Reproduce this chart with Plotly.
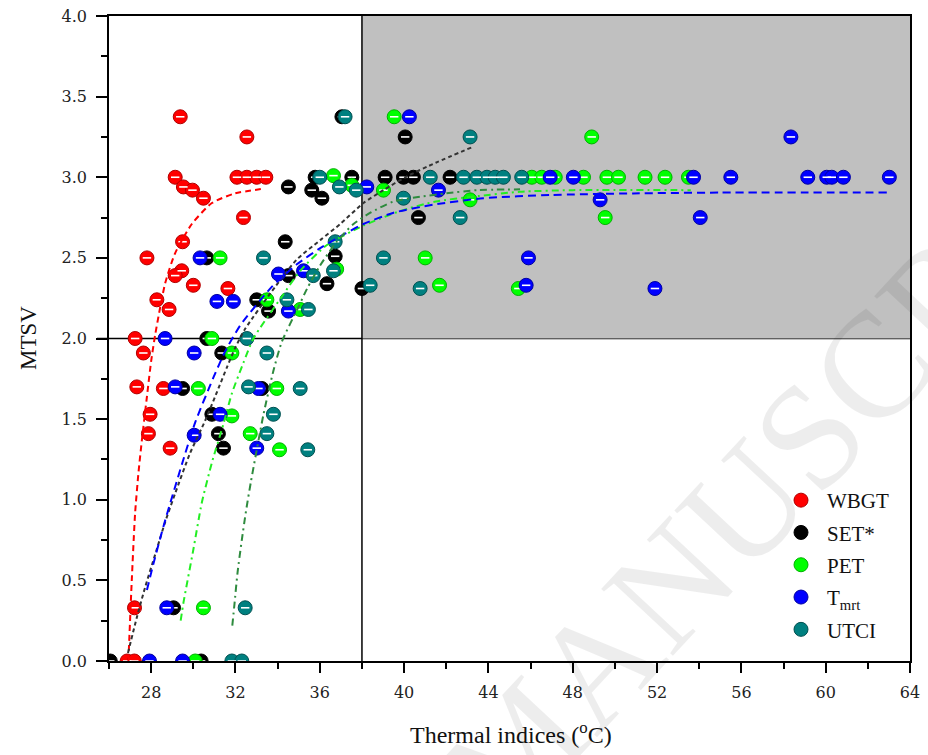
import plotly.graph_objects as go

# ---------------- data ----------------
wbgt_x = [29.38, 32.54, 29.14, 29.53, 29.96, 30.48, 32.07, 32.54, 33.01, 33.44, 32.38, 29.49, 27.80,
          29.45, 29.14, 30.00, 31.64, 28.27, 28.85, 27.24, 27.63, 27.32, 28.58, 27.95, 27.87, 28.90,
          27.21, 26.86, 27.20]
wbgt_y = [3.375, 3.25, 3.0, 2.94, 2.92, 2.87, 3.0, 3.0, 3.0, 3.0, 2.75, 2.60, 2.50,
          2.42, 2.39, 2.33, 2.31, 2.24, 2.18, 2.0, 1.91, 1.70, 1.69, 1.53, 1.41, 1.32,
          0.33, 0.0, 0.0]

set_x = [37.05, 40.05, 34.51, 35.62, 36.10, 35.78, 37.52, 39.10, 39.97, 40.44, 42.18, 40.68, 34.36,
         36.73, 36.34, 34.51, 38.00, 33.01, 33.57, 30.64, 30.64, 31.35, 29.49, 33.25, 30.88, 31.19,
         31.43, 29.06, 26.06, 30.37]
set_y = [3.375, 3.25, 2.94, 2.92, 2.87, 3.0, 3.0, 3.0, 3.0, 3.0, 3.0, 2.75, 2.60,
         2.51, 2.34, 2.39, 2.31, 2.24, 2.17, 2.50, 2.0, 1.91, 1.69, 1.69, 1.53, 1.41,
         1.32, 0.33, 0.0, 0.0]

pet_x = [39.53, 48.90, 36.65, 37.52, 39.02, 46.06, 46.53, 47.17, 48.51, 49.62, 50.17, 51.43, 52.38,
         53.49, 43.13, 49.54, 41.00, 41.68, 45.42, 36.80, 31.27, 33.49, 35.07, 30.88, 31.83, 30.24,
         33.96, 31.83, 32.70, 34.09, 30.48, 30.09]
pet_y = [3.375, 3.25, 3.01, 2.95, 2.92, 3.0, 3.0, 3.0, 3.0, 3.0, 3.0, 3.0, 3.0,
         3.0, 2.86, 2.75, 2.50, 2.33, 2.31, 2.43, 2.50, 2.24, 2.18, 2.0, 1.91, 1.69,
         1.69, 1.52, 1.41, 1.31, 0.33, 0.0]

tmrt_x = [40.25, 58.35, 38.23, 41.63, 46.93, 48.03, 53.73, 55.50, 59.15, 60.05, 60.29, 60.84, 63.02,
          49.30, 54.05, 45.90, 45.79, 51.90, 30.32, 35.23, 34.04, 31.12, 31.90, 34.51, 28.66, 30.04,
          29.14, 33.09, 31.27, 30.04, 33.01, 28.74, 27.92, 29.49]
tmrt_y = [3.375, 3.25, 2.94, 2.92, 3.0, 3.0, 3.0, 3.0, 3.0, 3.0, 3.0, 3.0, 3.0,
          2.86, 2.75, 2.50, 2.33, 2.31, 2.50, 2.42, 2.40, 2.23, 2.23, 2.17, 2.0, 1.91,
          1.70, 1.69, 1.53, 1.40, 1.32, 0.33, 0.0, 0.0]

utci_x = [37.20, 43.13, 36.00, 36.93, 37.73, 41.24, 42.82, 43.45, 43.93, 44.32, 44.71, 45.58, 39.97,
          42.66, 39.02, 33.33, 36.73, 36.65, 35.69, 38.39, 40.76, 34.44, 35.46, 32.54, 33.49, 32.62,
          35.07, 33.80, 33.49, 35.43, 32.46, 31.83, 32.30]
utci_y = [3.375, 3.25, 3.0, 2.94, 2.92, 3.0, 3.0, 3.0, 3.0, 3.0, 3.0, 3.0, 2.87,
          2.75, 2.50, 2.50, 2.60, 2.42, 2.39, 2.33, 2.31, 2.24, 2.18, 2.0, 1.91, 1.70,
          1.69, 1.53, 1.41, 1.31, 0.33, 0.0, 0.0]

# fitted curves
wbgt_fit_x = [26.92, 27.08, 27.24, 27.40, 27.56, 27.80, 28.00, 28.20, 28.66, 29.14, 29.93, 30.88, 31.98, 33.40]
wbgt_fit_y = [0.0, 0.50, 0.92, 1.17, 1.37, 1.64, 1.86, 2.03, 2.34, 2.53, 2.71, 2.84, 2.90, 2.93]

set_fit_x = [26.90, 27.32, 27.72, 28.19, 28.66, 29.14, 29.85, 30.56, 31.19, 31.59, 31.98, 32.46, 33.88,
             34.91, 36.02, 36.97, 38.07, 39.02, 40.05, 41.50, 43.29]
set_fit_y = [0.05, 0.27, 0.46, 0.66, 0.86, 1.04, 1.29, 1.49, 1.69, 1.82, 1.94, 2.06, 2.32,
             2.49, 2.61, 2.71, 2.84, 2.92, 3.00, 3.09, 3.19]

pet_fit_x = [29.40, 29.53, 30.00, 30.40, 30.88, 31.43, 31.83, 32.38, 32.85, 34.20, 35.07, 36.34, 38.07,
             39.80, 41.50, 43.30, 45.50, 48.00, 53.60]
pet_fit_y = [0.25, 0.36, 0.69, 0.98, 1.23, 1.47, 1.66, 1.85, 2.00, 2.26, 2.42, 2.58, 2.70,
             2.79, 2.85, 2.88, 2.91, 2.92, 2.92]

tmrt_fit_x = [27.80, 28.10, 28.66, 29.46, 30.09, 30.96, 31.51, 32.22, 33.72, 34.91, 36.02, 37.20, 38.07,
              39.50, 41.39, 43.76, 46.93, 50.87, 55.00, 63.00]
tmrt_fit_y = [0.44, 0.60, 0.87, 1.22, 1.48, 1.76, 1.92, 2.08, 2.32, 2.46, 2.56, 2.65, 2.71,
              2.78, 2.83, 2.87, 2.89, 2.90, 2.905, 2.905]

utci_fit_x = [31.85, 31.95, 32.10, 32.30, 32.50, 32.73, 33.33, 33.80, 34.20, 35.00, 35.40, 36.00, 36.80,
              37.60, 38.40, 39.50, 40.80, 42.00, 43.45, 45.50]
utci_fit_y = [0.22, 0.35, 0.55, 0.75, 0.93, 1.11, 1.53, 1.80, 1.98, 2.20, 2.31, 2.45, 2.60,
              2.71, 2.78, 2.85, 2.88, 2.90, 2.92, 2.925]

x_ticks = [28, 32, 36, 40, 44, 48, 52, 56, 60, 64]
y_ticks = [0.0, 0.5, 1.0, 1.5, 2.0, 2.5, 3.0, 3.5, 4.0]
threshold_x = 38
threshold_y = 2.0

series = [
    ("WBGT", wbgt_x, wbgt_y, "#ff0000", "#b00000"),
    ("SET*", set_x, set_y, "#000000", "#000000"),
    ("PET", pet_x, pet_y, "#00ff00", "#00b000"),
    ("T<sub>mrt</sub>", tmrt_x, tmrt_y, "#0000ff", "#0000a0"),
    ("UTCI", utci_x, utci_y, "#008080", "#005050"),
]
fits = [
    (wbgt_fit_x, wbgt_fit_y, "#ff0000", "6px,4px"),
    (set_fit_x, set_fit_y, "#333333", "4px,3px"),
    (pet_fit_x, pet_fit_y, "#22ee22", "7px,4px,2px,4px"),
    (tmrt_fit_x, tmrt_fit_y, "#0000ff", "8px,5px"),
    (utci_fit_x, utci_fit_y, "#2e8b3e", "7px,4px,2px,4px"),
]

SERIF = "Liberation Serif, Times New Roman, serif"
TICKFONT = "DejaVu Serif, serif"

fig = go.Figure()

for i, (name, xs, ys, col, edge) in enumerate(series):
    fig.add_trace(go.Scatter(
        x=xs, y=ys, mode="markers", name=name, legendgroup=name,
        marker=dict(symbol="circle", size=14, color=col, line=dict(color=edge, width=1)),
    ))
    fig.add_trace(go.Scatter(
        x=xs, y=ys, mode="markers", showlegend=False, hoverinfo="skip", legendgroup=name,
        marker=dict(symbol="line-ew", size=6, color="white", line=dict(color="white", width=1.6)),
    ))

for xs, ys, col, dash in fits:
    fig.add_trace(go.Scatter(
        x=xs, y=ys, mode="lines", showlegend=False, hoverinfo="skip",
        line=dict(color=col, width=2, dash=dash, shape="spline", smoothing=0.6),
    ))

ext = -12 / 801
fig.add_shape(type="rect", xref="x", yref="y", x0=threshold_x, x1=64, y0=threshold_y, y1=4,
              fillcolor="#c0c0c0", line=dict(width=0), layer="below")
fig.add_shape(type="line", xref="x", yref="y", x0=threshold_x, x1=threshold_x, y0=0, y1=4,
              line=dict(color="black", width=1.5), layer="below")
fig.add_shape(type="line", xref="paper", yref="y", x0=ext, x1=1, y0=threshold_y, y1=threshold_y,
              line=dict(color="black", width=1.5), layer="below")
fig.add_shape(type="line", xref="paper", yref="y", x0=ext, x1=0, y0=0, y1=0,
              line=dict(color="black", width=1.5), layer="above")

# axis titles
fig.add_annotation(text="MTSV", xref="paper", yref="paper", x=(28 - 109) / 801, y=(661 - 338) / 645,
                   textangle=-90, showarrow=False, font=dict(family=SERIF, size=23, color="#111"),
                   xanchor="center", yanchor="middle")
fig.add_annotation(text="Thermal indices (<sup>o</sup>C)", xref="paper", yref="paper",
                   x=(511 - 109) / 801, y=(661 - 733) / 645, showarrow=False,
                   font=dict(family=SERIF, size=24, color="#111"), xanchor="center", yanchor="middle")

# faint watermark
fig.add_annotation(text="ACCEPTED MANUSCRIPT", xref="paper", yref="paper",
                   x=(520 - 109) / 801, y=(661 - 745) / 645, textangle=-47, showarrow=False,
                   font=dict(family=SERIF, size=150, color="rgba(0,0,0,0.07)"),
                   xanchor="center", yanchor="middle")

fig.update_layout(
    width=928, height=755,
    margin=dict(l=109, r=18, t=16, b=94, autoexpand=False),
    paper_bgcolor="white", plot_bgcolor="white",
    showlegend=True,
    legend=dict(x=(775 - 109) / 801, y=(661 - 480) / 645, xanchor="left", yanchor="top",
                bgcolor="rgba(0,0,0,0)", font=dict(family=SERIF, size=21, color="#111"),
                itemwidth=42, tracegroupgap=2),
    xaxis=dict(range=[26, 64], tickvals=x_ticks, ticktext=[str(v) for v in x_ticks],
               showgrid=False, zeroline=False, showline=True, linecolor="black", linewidth=1.5,
               mirror=True, ticks="outside", ticklen=10, tickwidth=1.5, tickcolor="black",
               tickfont=dict(family=TICKFONT, size=16, color="#222"), ticklabelstandoff=6,
               minor=dict(dtick=2, tick0=26, ticks="outside", ticklen=6, tickwidth=1.5, tickcolor="black")),
    yaxis=dict(range=[0, 4], tickvals=y_ticks, ticktext=[f"{v:.1f}" for v in y_ticks],
               showgrid=False, zeroline=False, showline=True, linecolor="black", linewidth=1.5,
               mirror=True, ticks="outside", ticklen=11, tickwidth=1.5, tickcolor="black",
               tickfont=dict(family=TICKFONT, size=16, color="#222"), ticklabelstandoff=6,
               minor=dict(dtick=0.25, tick0=0, ticks="outside", ticklen=6, tickwidth=1.5, tickcolor="black")),
)

fig.write_html("out.html")
